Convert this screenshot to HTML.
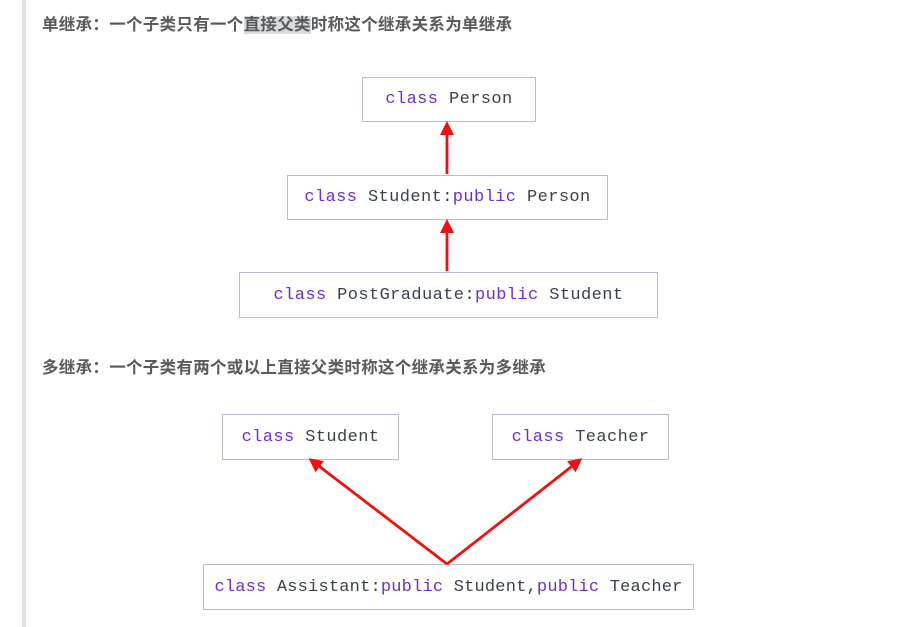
<!DOCTYPE html>
<html><head><meta charset="utf-8"><style>
body{margin:0;width:921px;height:627px;background:#fff;position:relative;overflow:hidden;font-family:"Liberation Sans","Noto Sans CJK SC",sans-serif}
.bar{position:absolute;left:22px;top:0;width:4px;height:627px;background:#e2e3e6}
.h{position:absolute;left:42px;font-size:16.5px;font-weight:bold;color:#5a5a5a;letter-spacing:0.3px;white-space:nowrap}
.hl{background:#d7dde3}
.b{position:absolute;border:1.5px solid #b8bccb;box-sizing:border-box;display:flex;align-items:center;justify-content:center;font-family:"Liberation Mono",monospace;font-size:17px;letter-spacing:0.4px;color:#3a4050;white-space:pre}
.k{color:#6a2fd6}
svg{position:absolute;left:0;top:0}
</style></head><body>
<div class="bar"></div>
<div class="h" style="top:11px">单继承：一个子类只有一个<span class="hl">直接父类</span>时称这个继承关系为单继承</div>
<div class="h" style="top:354px">多继承：一个子类有两个或以上直接父类时称这个继承关系为多继承</div>
<div class="b" style="left:362px;top:77px;width:174px;height:45px"><span class="k">class</span> Person</div>
<div class="b" style="left:287px;top:175px;width:321px;height:45px"><span class="k">class</span> Student:<span class="k">public</span> Person</div>
<div class="b" style="left:239px;top:272px;width:419px;height:46px"><span class="k">class</span> PostGraduate:<span class="k">public</span> Student</div>
<div class="b" style="left:222px;top:414px;width:177px;height:46px"><span class="k">class</span> Student</div>
<div class="b" style="left:492px;top:414px;width:177px;height:46px"><span class="k">class</span> Teacher</div>
<div class="b" style="left:203px;top:564px;width:491px;height:46px;letter-spacing:0.2px"><span class="k">class</span> Assistant:<span class="k">public</span> Student,<span class="k">public</span> Teacher</div>
<svg width="921" height="627">
<defs><marker id="a" markerWidth="14" markerHeight="14" refX="11" refY="7" orient="auto" markerUnits="userSpaceOnUse"><path d="M0,0 L14,7 L0,14 Z" fill="#f01010"/></marker></defs>
<g stroke="#f01010" stroke-width="2.8" fill="none">
<line x1="447" y1="174" x2="447" y2="124" marker-end="url(#a)"/>
<line x1="447" y1="271" x2="447" y2="222" marker-end="url(#a)"/>
<line x1="447" y1="564" x2="311" y2="460" marker-end="url(#a)"/>
<line x1="447" y1="564" x2="580" y2="460" marker-end="url(#a)"/>
</g>
</svg>
</body></html>
